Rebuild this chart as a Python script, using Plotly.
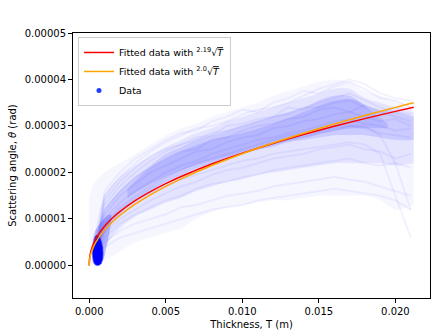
import plotly.graph_objects as go

U = 1e-6  # values below are in micro-radians

# ---- fitted curves ----
fit_T = [0.0, 0.00002, 0.0001, 0.0003, 0.0006, 0.001, 0.0015, 0.002, 0.003, 0.004, 0.005,
         0.006, 0.008, 0.010, 0.012, 0.014, 0.016, 0.018, 0.020, 0.0212]
fit_red = [0.0, 1.41, 2.95, 4.87, 6.68, 8.44, 10.15, 11.58, 13.93, 15.88, 17.59,
           19.13, 21.81, 24.14, 26.24, 28.15, 29.93, 31.58, 33.14, 34.03]
fit_orange = [0.0, 1.08, 2.40, 4.16, 5.89, 7.60, 9.31, 10.75, 13.17, 15.20, 17.00,
              18.62, 21.50, 24.04, 26.33, 28.44, 30.41, 32.25, 34.00, 35.00]

# ---- data cloud envelopes ----
band_T = [0.0, 0.0002, 0.001, 0.002, 0.003, 0.004, 0.005, 0.006, 0.007, 0.008, 0.009, 0.010,
          0.011, 0.012, 0.013, 0.014, 0.015, 0.016, 0.017, 0.018, 0.019, 0.020, 0.0212]
outer_hi = [14, 17, 20, 22, 24, 26, 28, 29.5, 30.5, 32, 33, 34,
            35, 36.5, 37.5, 38.5, 39.5, 40, 39.5, 37.5, 36.5, 35.5, 34]
outer_lo = [0.2, 0.2, 1, 3, 5, 6, 7, 8, 10, 11.5, 12.5, 13,
            13.5, 14, 14, 14.5, 15, 15, 15, 15, 14, 12, 13]
inner_T = [0.0004, 0.001, 0.002, 0.003, 0.004, 0.005, 0.006, 0.007, 0.008, 0.009, 0.010,
           0.011, 0.012, 0.013, 0.014, 0.015, 0.016, 0.017, 0.018, 0.019, 0.020, 0.0212]
mid_hi = [7, 15, 19, 21.5, 23.5, 25.5, 27, 28.5, 29.5, 31, 32,
          33, 34, 35, 36, 37, 38, 38, 36, 35, 34, 33]
mid_lo = [0.5, 4, 8, 10.5, 12, 13.5, 14.5, 16, 17, 18, 18.5,
          19.5, 20, 20.5, 21, 21.5, 22, 22, 22, 22, 21.5, 22]
core_hi = [6, 12, 16, 19, 21.5, 24, 25.5, 27, 28, 29, 30,
           31, 32, 33, 34, 35.5, 36.5, 36.5, 34.5, 33.5, 33, 32]
core_lo = [0.5, 7, 11, 14, 16, 18, 19.5, 21, 22, 23, 24,
           25, 25.5, 26.5, 27, 27.5, 28, 28, 28, 27.5, 27, 27]
dense_T = [0.0025, 0.004, 0.006, 0.008, 0.010, 0.012, 0.014, 0.016, 0.0175, 0.0185, 0.0195]
dense_hi = [16.5, 21, 24.5, 27, 28.5, 30.5, 33, 35.5, 35.5, 33, 30.5]
dense_lo = [14.5, 17.5, 20.5, 22.5, 24.5, 26, 27.5, 29, 29.5, 29.5, 29.5]

# ---- dense blob of early points ----
blob_T = [0.00050, 0.00065, 0.00077, 0.00086, 0.00089, 0.00086, 0.00077, 0.00065, 0.00052,
          0.00040, 0.00030, 0.00024, 0.00023, 0.00026, 0.00033, 0.00041, 0.00050]
blob_theta = [6.5, 6.1, 5.2, 3.9, 2.5, 1.3, 0.5, 0.1, 0.05, 0.2, 0.8, 1.8, 3.0, 4.3, 5.4, 6.2, 6.5]
halo_T = [0.00022, 0.00019, 0.00024, 0.00050, 0.00080, 0.00100, 0.00120, 0.00140, 0.00145,
          0.00120, 0.00090, 0.00060, 0.00038, 0.00022]
halo_theta = [5.5, 3.0, 0.5, 0.0, 0.3, 2.0, 5.0, 8.5, 11.0, 10.8, 9.8, 8.6, 7.4, 5.5]

# ---- individual trajectories ----
traj_T = [0.0005, 0.001, 0.002, 0.003, 0.004, 0.005, 0.006, 0.007, 0.008, 0.009, 0.010, 0.011,
          0.012, 0.013, 0.014, 0.015, 0.016, 0.017, 0.018, 0.019, 0.020, 0.021]
trajectories = [
    [4, 16, 20, 23, 25, 27, 28.5, 29, 31, 32, 33.5, 33, 35, 36, 37.5, 37, 38.5, 39.5, 38, 36, 35.5, 34],
    [4, 14, 18, 21, 23.5, 25, 26, 27.5, 28, 30, 30.5, 31.5, 32, 34, 33.5, 35, 36, 37, 35.5, 34, 33, 32.5],
    [3, 12, 16, 19, 21, 23, 24.5, 25, 27, 27.5, 29, 30, 30.5, 31.5, 32, 33.5, 34, 33, 34.5, 33, 32, 31],
    [3, 11, 15, 17.5, 20, 21.5, 23, 24.5, 25, 26.5, 27.5, 28, 29.5, 30, 31, 31.5, 32.5, 33, 32, 31, 31.5, 30],
    [3, 10, 13.5, 16, 18, 20, 21.5, 22.5, 24, 25, 26, 27, 27.5, 28.5, 29, 30, 31, 31.5, 30.5, 30, 29, 29.5],
    [3, 9, 12, 14.5, 16.5, 18, 19.5, 21, 22, 23.5, 24.5, 25, 26, 27, 27.5, 28.5, 29, 30, 29.5, 28.5, 28, 27.5],
    [2, 7, 10, 12, 14, 15.5, 17, 18, 19.5, 20.5, 21, 22, 23, 23.5, 24, 25, 25.5, 26, 25, 24.5, 23, 24],
    [2, 6, 9, 11, 12.5, 14, 15, 16.5, 17.5, 18, 19, 19.5, 20.5, 21, 21.5, 22, 22.5, 23, 22, 21.5, 22, 21],
    [2, 5, 7.5, 9, 10, 11, 12.5, 13, 14, 15, 15.5, 16, 17, 17.5, 18, 18.5, 19, 18.5, 18, 17, 16, 15],
    [3, 8, 11, 13.5, 15.5, 17, 18.5, 19.5, 20.5, 21.5, 22.5, 23, 24, 24.5, 25, 25.5, 26, 26.5, 26, 24, 15, 6],
    [4, 15, 19, 22, 24.5, 26.5, 28, 29.5, 30, 31, 32.5, 33.5, 34, 35, 36.5, 38, 39, 40, 39, 37, 36, 35.5],
    [4, 13, 17, 20, 22.5, 24.5, 26, 27, 28.5, 29, 30, 31, 32, 32.5, 34, 34, 35, 35.5, 34, 32.5, 34, 33.5],
    [1, 4, 6, 7, 8, 9, 10, 11, 12, 12.5, 13, 14, 14.5, 15, 15.5, 16, 16.5, 16, 15.5, 15, 14, 12],
    [3, 9, 12.5, 15, 17, 19, 20.5, 22, 23, 24, 25, 26, 27, 28, 28.5, 29, 29.5, 30, 30, 28, 22, 12],
]

x_tickvals = [0.0, 0.005, 0.010, 0.015, 0.020]
x_ticktext = ["0.000", "0.005", "0.010", "0.015", "0.020"]
y_tickvals = [0.0, 0.00001, 0.00002, 0.00003, 0.00004, 0.00005]
y_ticktext = ["0.00000", "0.00001", "0.00002", "0.00003", "0.00004", "0.00005"]


def sc(vals):
    return [v * U for v in vals]


fig = go.Figure()


def add_band(t, lo, hi, alpha):
    fig.add_trace(go.Scatter(x=t, y=sc(lo), mode="lines", line=dict(width=0, shape="spline"),
                             showlegend=False, hoverinfo="skip"))
    fig.add_trace(go.Scatter(x=t, y=sc(hi), mode="lines", line=dict(width=0, shape="spline"),
                             fill="tonexty", fillcolor="rgba(0,0,255,%g)" % alpha,
                             showlegend=False, hoverinfo="skip"))


add_band(band_T, outer_lo, outer_hi, 0.035)
add_band(inner_T, mid_lo, mid_hi, 0.07)
add_band(inner_T, core_lo, core_hi, 0.11)
add_band(dense_T, dense_lo, dense_hi, 0.10)

for tr in trajectories:
    fig.add_trace(go.Scatter(x=traj_T, y=sc(tr), mode="lines",
                             line=dict(width=2, color="rgba(0,0,255,0.05)"),
                             showlegend=False, hoverinfo="skip"))

fig.add_trace(go.Scatter(x=halo_T, y=sc(halo_theta), mode="lines", fill="toself",
                         line=dict(width=0),
                         fillcolor="rgba(0,0,255,0.22)", showlegend=False, hoverinfo="skip"))
fig.add_trace(go.Scatter(x=blob_T, y=sc(blob_theta), mode="lines", fill="toself",
                         line=dict(width=1.5, color="rgba(0,0,255,0.5)"),
                         fillcolor="rgb(0,0,255)", showlegend=False, hoverinfo="skip"))

fig.add_trace(go.Scatter(x=fit_T, y=sc(fit_red), mode="lines", line=dict(color="red", width=1.5, shape="spline"),
                         name='Fitted data with <sup>2.19</sup>√<span style="text-decoration:overline"><i>T</i></span>'))
fig.add_trace(go.Scatter(x=fit_T, y=sc(fit_orange), mode="lines", line=dict(color="#ffa500", width=1.5, shape="spline"),
                         name='Fitted data with <sup>2.0</sup>√<span style="text-decoration:overline"><i>T</i></span>'))
fig.add_trace(go.Scatter(x=[None], y=[None], mode="markers", marker=dict(color="#1f3fff", size=5),
                         name="Data"))

axis_common = dict(showline=True, linecolor="black", linewidth=1, mirror=True, ticks="outside",
                   ticklen=4, tickcolor="black", showgrid=False, zeroline=False,
                   tickfont=dict(family="DejaVu Sans", size=10, color="black"))

fig.update_layout(
    width=439, height=336,
    margin=dict(l=73, r=9, t=33, b=38),
    paper_bgcolor="white", plot_bgcolor="white",
    font=dict(family="DejaVu Sans", size=10, color="black"),
    xaxis=dict(range=[-0.00106, 0.02226], tickvals=x_tickvals, ticktext=x_ticktext,
               title=dict(text="Thickness, T (m)", font=dict(size=10), standoff=4), **axis_common),
    yaxis=dict(range=[-0.000007, 0.00005], tickvals=y_tickvals, ticktext=y_ticktext,
               title=dict(text="Scattering angle, <i>θ</i> (rad)", font=dict(size=10), standoff=6),
               automargin=False, **axis_common),
    legend=dict(x=0.014, y=0.985, xanchor="left", yanchor="top", bgcolor="rgba(255,255,255,0.8)",
                bordercolor="#cccccc", borderwidth=1, font=dict(size=9.5), tracegroupgap=0,
                traceorder="normal"),
)

fig.write_html("out.html", config={"displayModeBar": False},
               post_script="document.body.style.margin='0';")
